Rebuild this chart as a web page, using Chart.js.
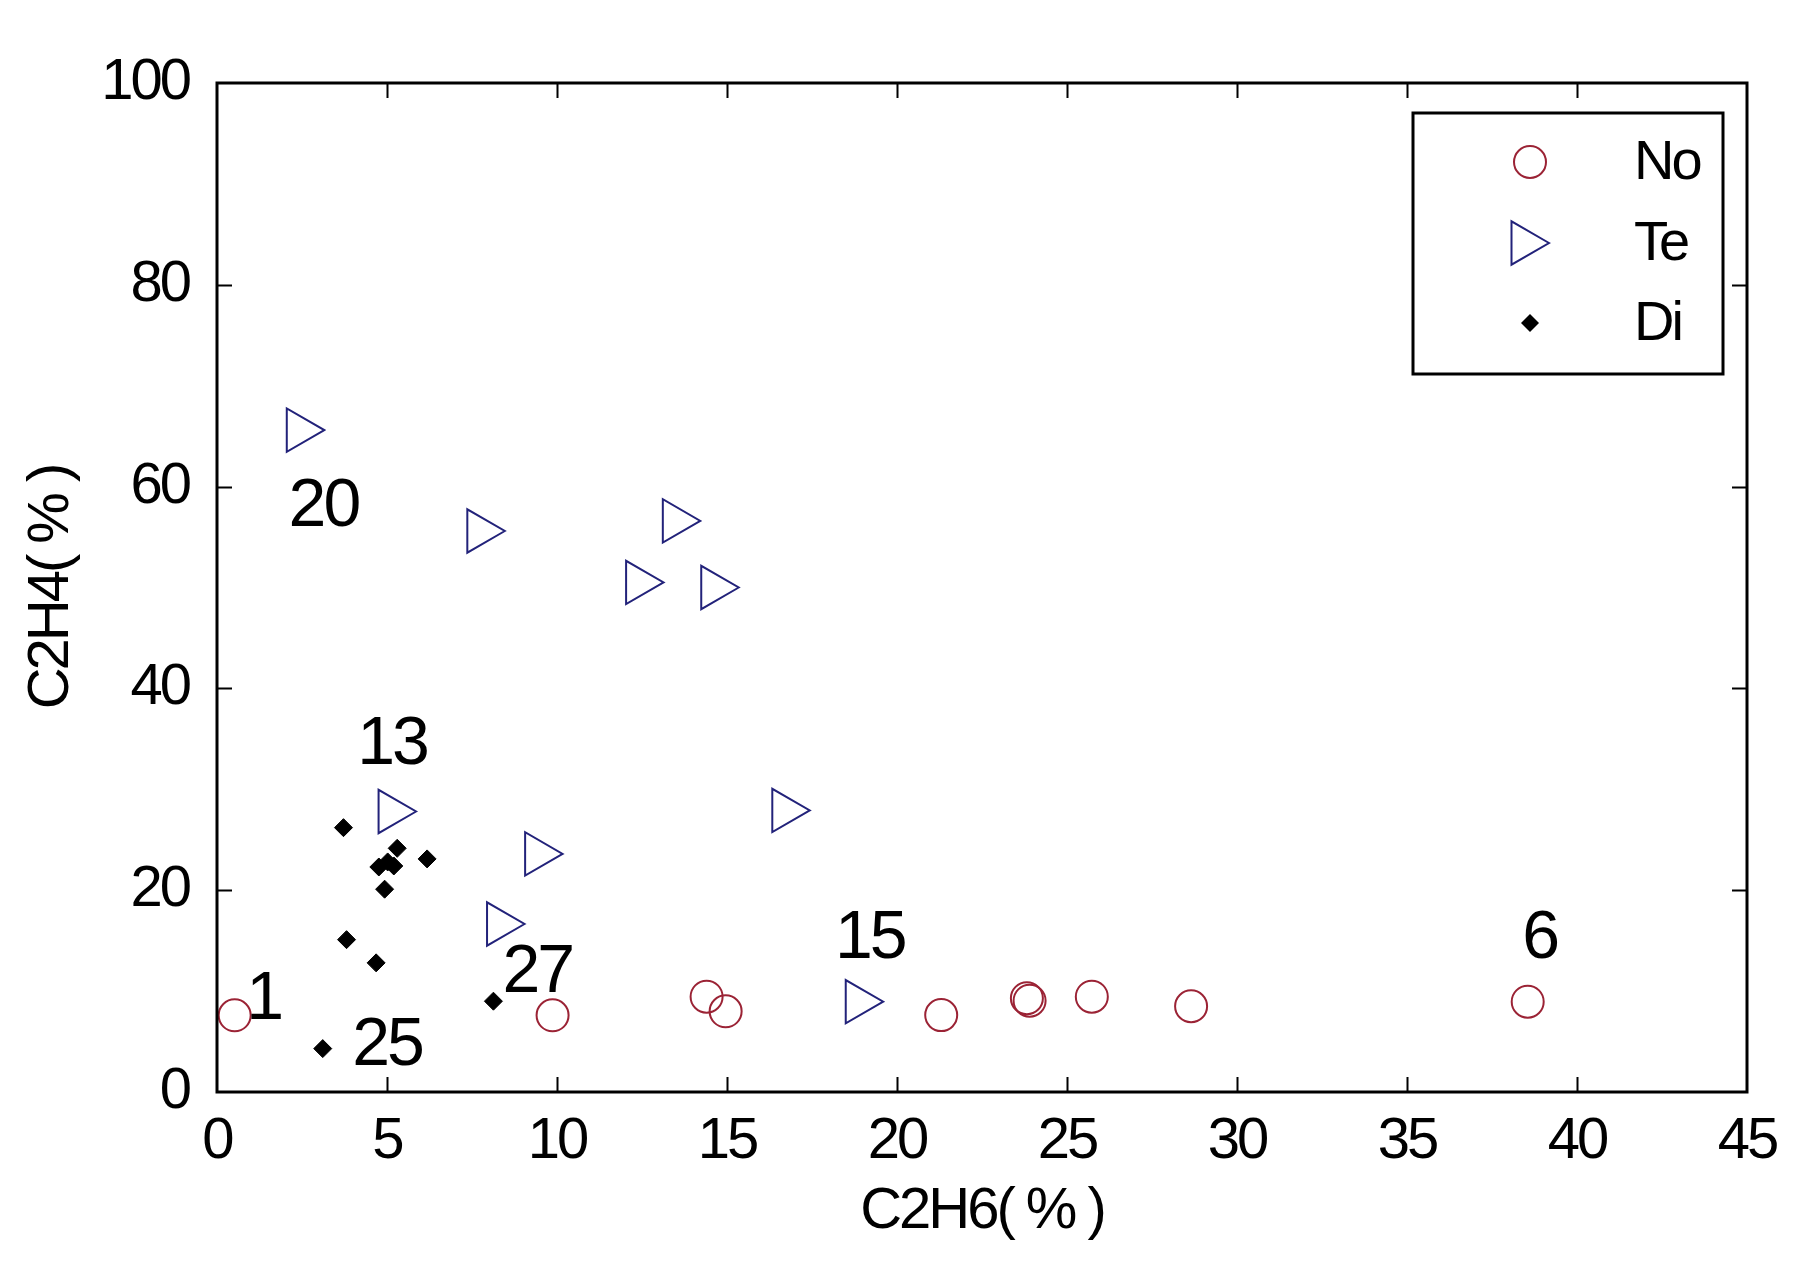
<!DOCTYPE html>
<html>
<head>
<meta charset="utf-8">
<script src="https://cdn.jsdelivr.net/npm/chart.js@4/dist/chart.umd.min.js"></script>
<style>
  html, body { margin: 0; padding: 0; background: #ffffff; }
  #wrap { width: 1817px; height: 1275px; position: relative; }
</style>
</head>
<body>
<div id="wrap"><canvas id="c" width="1817" height="1275"></canvas></div>
<script>
// ---- data ----
const xTicks = [0, 5, 10, 15, 20, 25, 30, 35, 40, 45];
const yTicks = [0, 20, 40, 60, 80, 100];
const seriesNames = ['No', 'Te', 'Di'];

const noX = [0.52, 9.87, 14.40, 14.96, 21.30, 23.82, 23.90, 25.73, 28.65, 38.55];
const noY = [7.6, 7.6, 9.45, 8.0, 7.62, 9.3, 9.05, 9.45, 8.5, 8.95];

const teX = [2.42, 7.73, 13.48, 12.40, 14.61, 5.12, 9.43, 8.31, 18.86, 16.70];
const teY = [65.6, 55.6, 56.6, 50.5, 50.0, 27.8, 23.6, 16.65, 8.95, 27.9];

const diX = [3.72, 5.30, 6.18, 4.76, 5.02, 5.20, 4.93, 3.81, 4.68, 3.11, 8.13];
const diY = [26.2, 24.15, 23.1, 22.3, 22.8, 22.4, 20.1, 15.1, 12.8, 4.3, 9.0];

const noteText = ['1', '25', '27', '13', '15', '6', '20'];
const noteX = [1.37, 5.0, 9.42, 5.15, 19.2, 38.9, 3.13];
const noteY = [9.05, 4.49, 11.76, 34.4, 15.16, 15.16, 58.0];

// ---- styling ----
const FONT = '"Liberation Sans Narrow", "Liberation Sans", Arial, sans-serif';
const noColor = '#9b2335';
const teColor = '#22227a';
const diColor = '#000000';

function pts(xs, ys) { return xs.map((x, i) => ({ x: x, y: ys[i] })); }

const tightText = {
  id: 'tightText',
  beforeDraw(chart) {
    if ('letterSpacing' in chart.ctx) chart.ctx.letterSpacing = '-3px';
  }
};

const frameAndTicks = {
  id: 'frameAndTicks',
  afterDraw(chart) {
    const ctx = chart.ctx, a = chart.chartArea;
    const xs = chart.scales.x, ys = chart.scales.y;
    const tl = 15;
    ctx.save();
    ctx.strokeStyle = '#000';
    ctx.lineWidth = 2;
    ctx.beginPath();
    xTicks.forEach(v => {
      const px = Math.round(xs.getPixelForValue(v)) + 0.5;
      if (v === xs.min || v === xs.max) return;
      ctx.moveTo(px, a.bottom); ctx.lineTo(px, a.bottom - tl);
      ctx.moveTo(px, a.top); ctx.lineTo(px, a.top + tl);
    });
    yTicks.forEach(v => {
      const py = Math.round(ys.getPixelForValue(v)) + 0.5;
      if (v === ys.min || v === ys.max) return;
      ctx.moveTo(a.left, py); ctx.lineTo(a.left + tl, py);
      ctx.moveTo(a.right, py); ctx.lineTo(a.right - tl, py);
    });
    ctx.stroke();
    ctx.lineWidth = 3;
    ctx.strokeRect(a.left, a.top, a.right - a.left, a.bottom - a.top);
    ctx.restore();
  }
};

const notes = {
  id: 'notes',
  afterDatasetsDraw(chart) {
    const ctx = chart.ctx;
    const xs = chart.scales.x, ys = chart.scales.y;
    ctx.save();
    ctx.fillStyle = '#000';
    ctx.font = '68px ' + FONT;
    ctx.textAlign = 'center';
    ctx.textBaseline = 'middle';
    noteText.forEach((t, i) => {
      ctx.fillText(t, xs.getPixelForValue(noteX[i]), ys.getPixelForValue(noteY[i]));
    });
    ctx.restore();
  }
};

const boxLegend = {
  id: 'boxLegend',
  afterDraw(chart) {
    const ctx = chart.ctx;
    const bx = 1413, by = 113, bw = 310, bh = 261;
    ctx.save();
    ctx.fillStyle = '#fff';
    ctx.fillRect(bx, by, bw, bh);
    ctx.strokeStyle = '#000';
    ctx.lineWidth = 3;
    ctx.strokeRect(bx, by, bw, bh);
    const mx = 1530;
    const rows = [162, 243, 323];
    // No: circle
    ctx.strokeStyle = noColor; ctx.lineWidth = 2;
    ctx.beginPath(); ctx.arc(mx, rows[0], 16, 0, Math.PI * 2); ctx.stroke();
    // Te: right triangle
    const r = 25;
    ctx.strokeStyle = teColor;
    ctx.beginPath();
    ctx.moveTo(mx - 6 + r, rows[1]);
    ctx.lineTo(mx - 6 - r / 2, rows[1] - r * Math.sqrt(3) / 2);
    ctx.lineTo(mx - 6 - r / 2, rows[1] + r * Math.sqrt(3) / 2);
    ctx.closePath(); ctx.stroke();
    // Di: diamond
    ctx.fillStyle = diColor;
    ctx.beginPath();
    ctx.moveTo(mx, rows[2] - 9); ctx.lineTo(mx + 9, rows[2]);
    ctx.lineTo(mx, rows[2] + 9); ctx.lineTo(mx - 9, rows[2]);
    ctx.closePath(); ctx.fill();
    // text
    ctx.fillStyle = '#000';
    ctx.font = '56px ' + FONT;
    ctx.textAlign = 'left';
    ctx.textBaseline = 'middle';
    seriesNames.forEach((n, i) => ctx.fillText(n, 1634, rows[i] + 2));
    ctx.restore();
  }
};

new Chart(document.getElementById('c'), {
  type: 'scatter',
  data: {
    datasets: [
      { label: seriesNames[0], data: pts(noX, noY), pointStyle: 'circle', radius: 16,
        borderColor: noColor, backgroundColor: 'rgba(0,0,0,0)', borderWidth: 2 },
      { label: seriesNames[1], data: pts(teX, teY), pointStyle: 'triangle', rotation: 90, radius: 25,
        borderColor: teColor, backgroundColor: 'rgba(0,0,0,0)', borderWidth: 2 },
      { label: seriesNames[2], data: pts(diX, diY), pointStyle: 'rectRot', radius: 9,
        borderColor: diColor, backgroundColor: diColor, borderWidth: 1 }
    ]
  },
  options: {
    responsive: false,
    animation: false,
    events: [],
    layout: { padding: { left: 0, right: 70, top: 83, bottom: 0 } },
    plugins: { legend: { display: false }, tooltip: { enabled: false } },
    scales: {
      x: {
        type: 'linear', min: 0, max: 45,
        afterBuildTicks(s) { s.ticks = xTicks.map(v => ({ value: v })); },
        afterFit(s) { s.height = 183; },
        grid: { display: false, drawTicks: false },
        border: { display: false },
        ticks: { color: '#000', font: { family: FONT, size: 58 }, padding: 15, maxRotation: 0 },
        title: { display: true, text: 'C2H6( % )', color: '#000',
                 font: { family: FONT, size: 58 }, padding: { top: 0, bottom: 28 } }
      },
      y: {
        type: 'linear', min: 0, max: 100,
        afterBuildTicks(s) { s.ticks = yTicks.map(v => ({ value: v })); },
        afterFit(s) { s.width = 217; },
        grid: { display: false, drawTicks: false },
        border: { display: false },
        ticks: { color: '#000', font: { family: FONT, size: 58 }, padding: 28 },
        title: { display: true, text: 'C2H4( % )', color: '#000',
                 font: { family: FONT, size: 58 }, padding: { top: 17, bottom: 0 } }
      }
    }
  },
  plugins: [tightText, notes, frameAndTicks, boxLegend]
});
</script>
</body>
</html>
